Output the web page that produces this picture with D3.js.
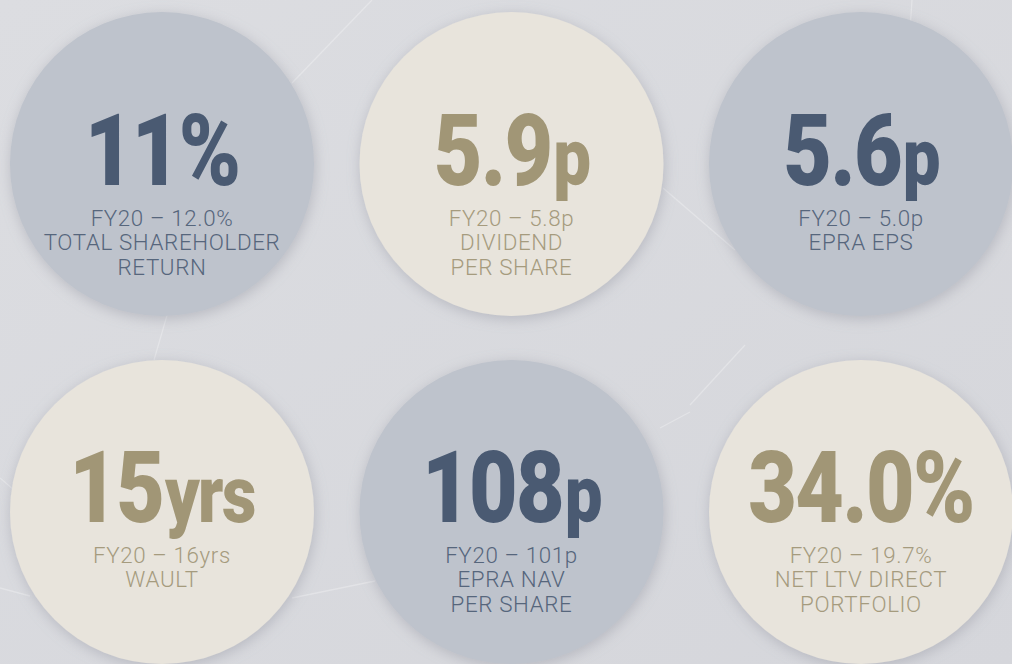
<!DOCTYPE html>
<html>
<head>
<meta charset="utf-8">
<script src="https://cdn.jsdelivr.net/npm/d3@7"></script>
<style>
  html, body { margin: 0; padding: 0; background: #d8d9de; overflow: hidden; }
  svg { display: block; }
</style>
</head>
<body>
<svg id="chart" width="1012" height="664"></svg>
<script>
// ---- data ----
const headline  = ["11%", "5.9", "5.6", "15", "108", "34.0%"];
const unit      = ["", "p", "p", "yrs", "p", ""];
const priorYear = ["FY20 – 12.0%", "FY20 – 5.8p", "FY20 – 5.0p", "FY20 – 16yrs", "FY20 – 101p", "FY20 – 19.7%"];
const labels    = [["TOTAL SHAREHOLDER", "RETURN"], ["DIVIDEND", "PER SHARE"], ["EPRA EPS"], ["WAULT"], ["EPRA NAV", "PER SHARE"], ["NET LTV DIRECT", "PORTFOLIO"]];
const theme     = ["blue", "cream", "blue", "cream", "blue", "cream"];
const columns   = [0, 1, 2];
const rows      = [0, 1];

// ---- styling ----
const W = 1012, H = 664;
const palette = {
  blue:  { fill: "#bec3cc", big: "#4a5a72", small: "#56667c" },
  cream: { fill: "#e8e4dc", big: "#a19676", small: "#a59b7e" }
};
const R = 152;
const bigSize = 100, unitSize = 80, smallSize = 21.5, lineH = 24.5;
const bigScaleX = 0.84, smallScaleX = 1.04;
const rowTextShift = [21, 10];   // baseline offset of the headline from the circle centre, per row

const svg = d3.select("#chart");
const defs = svg.append("defs");

const f = defs.append("filter").attr("id", "shadow")
  .attr("x", "-20%").attr("y", "-20%").attr("width", "140%").attr("height", "140%");
f.append("feDropShadow").attr("dx", 1).attr("dy", 3).attr("stdDeviation", 7)
  .attr("flood-color", "#8d909c").attr("flood-opacity", 0.45);

const lg = defs.append("linearGradient").attr("id", "bgGrad")
  .attr("x1", 0).attr("y1", 0).attr("x2", 1).attr("y2", 1);
lg.append("stop").attr("offset", "0%").attr("stop-color", "#dcdde1");
lg.append("stop").attr("offset", "100%").attr("stop-color", "#d5d6db");

svg.append("rect").attr("width", W).attr("height", H).attr("fill", "url(#bgGrad)");

// faint decorative background strokes
const bgLines = [
  [[292, 83], [372, 0]],
  [[168, 312], [154, 360]],
  [[663, 188], [735, 250]],
  [[745, 345], [690, 405]],
  [[0, 478], [14, 490]],
  [[0, 588], [30, 596]],
  [[292, 598], [375, 581]],
  [[912, 0], [910, 30]],
  [[660, 428], [690, 412]]
];
svg.append("g").selectAll("line").data(bgLines).join("line")
  .attr("x1", d => d[0][0]).attr("y1", d => d[0][1])
  .attr("x2", d => d[1][0]).attr("y2", d => d[1][1])
  .attr("stroke", "#ffffff").attr("stroke-opacity", 0.28).attr("stroke-width", 1.3);

const x = d3.scalePoint().domain(columns).range([162, 861]);
const y = d3.scalePoint().domain(rows).range([164, 512]);

const items = headline.map((h, i) => ({
  i, h, u: unit[i], prior: priorYear[i], lab: labels[i], t: palette[theme[i]],
  row: Math.floor(i / 3),
  cx: x(i % 3), cy: y(Math.floor(i / 3))
}));

const g = svg.append("g").selectAll("g.kpi").data(items).join("g")
  .attr("class", "kpi")
  .attr("transform", d => `translate(${d.cx},${d.cy})`);

g.append("circle").attr("r", R).attr("fill", d => d.t.fill).attr("filter", "url(#shadow)");

const big = g.append("text")
  .attr("text-anchor", "middle")
  .attr("transform", d => `translate(0,${rowTextShift[d.row]}) scale(${bigScaleX},1)`)
  .style("font-family", "Roboto, 'DejaVu Sans', sans-serif")
  .style("font-weight", 900)
  .style("letter-spacing", "-2px")
  .attr("fill", d => d.t.big);
big.append("tspan").style("font-size", bigSize + "px").text(d => d.h);
big.append("tspan").style("font-size", unitSize + "px").attr("dx", 2).text(d => d.u);

const small = g.append("text")
  .attr("text-anchor", "middle")
  .attr("transform", d => `translate(0,${rowTextShift[d.row] + 41}) scale(${smallScaleX},1)`)
  .style("font-family", "Roboto, 'DejaVu Sans', sans-serif")
  .style("font-weight", 300)
  .style("font-size", smallSize + "px")
  .style("letter-spacing", "0.6px")
  .attr("fill", d => d.t.small);
small.selectAll("tspan").data(d => [d.prior, ...d.lab]).join("tspan")
  .attr("x", 0).attr("y", (d, k) => k * lineH).text(d => d);
</script>
</body>
</html>
